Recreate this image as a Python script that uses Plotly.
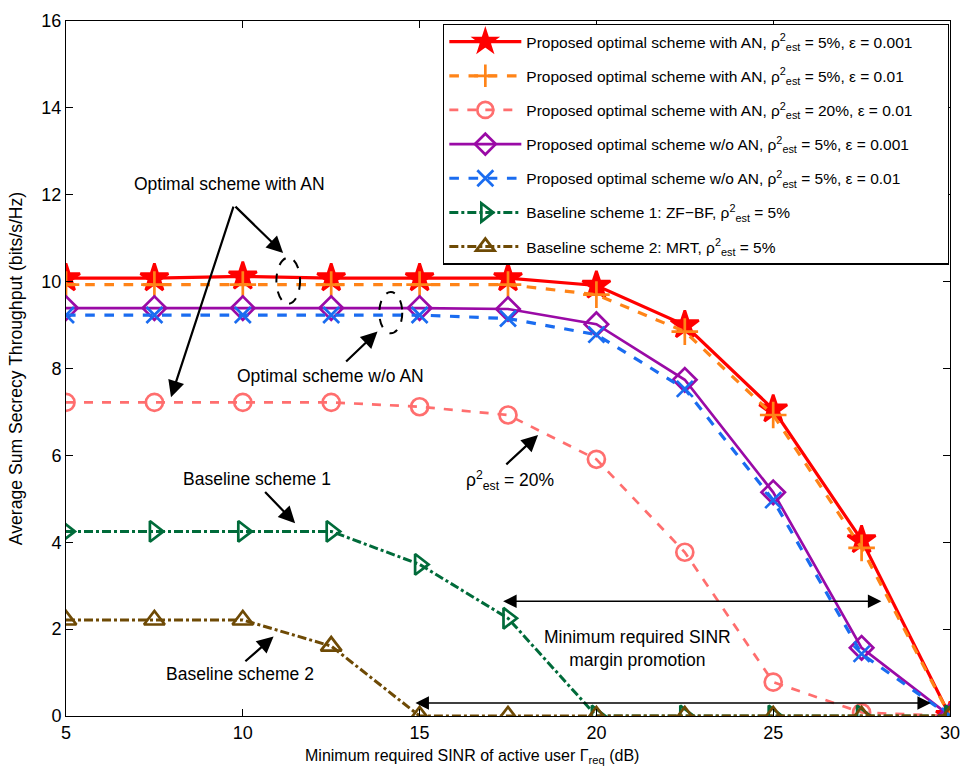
import plotly.graph_objects as go

x_sinr = [5, 7.5, 10, 12.5, 15, 17.5, 20, 22.5, 25, 27.5, 30]
an_5_001 = [10.08, 10.08, 10.12, 10.08, 10.08, 10.08, 9.91, 9.0, 7.06, 4.05, 0]
an_5_01 = [9.93, 9.93, 9.93, 9.93, 9.93, 9.93, 9.7, 8.85, 6.93, 3.87, 0]
an_20_01 = [7.22, 7.22, 7.22, 7.22, 7.12, 6.93, 5.91, 3.77, 0.78, 0.08, 0]
noan_5_001 = [9.39, 9.39, 9.39, 9.39, 9.39, 9.37, 9.02, 7.74, 5.15, 1.57, 0]
noan_5_01 = [9.23, 9.23, 9.23, 9.23, 9.23, 9.15, 8.78, 7.53, 4.97, 1.43, 0]
zf_bf = [4.25, 4.25, 4.25, 4.25, 3.49, 2.25, 0, 0, 0, 0, 0]
mrt = [2.21, 2.21, 2.21, 1.61, 0, 0, 0, 0, 0, 0, 0]

x_ticks = [5, 10, 15, 20, 25, 30]
y_ticks = [0, 2, 4, 6, 8, 10, 12, 14, 16]

RHO = "ρ<sup>2</sup><sub>est</sub>"
PAD = "&nbsp;" * 7
names = [
    f"Proposed optimal scheme with AN, {RHO} = 5%, ε = 0.001{PAD}",
    f"Proposed optimal scheme with AN, {RHO} = 5%, ε = 0.01",
    f"Proposed optimal scheme with AN, {RHO} = 20%, ε = 0.01",
    f"Proposed optimal scheme w/o AN, {RHO} = 5%, ε = 0.001",
    f"Proposed optimal scheme w/o AN, {RHO} = 5%, ε = 0.01",
    f"Baseline scheme 1: ZF−BF, {RHO} = 5%",
    f"Baseline scheme 2: MRT, {RHO} = 5%",
]
series = [an_5_001, an_5_01, an_20_01, noan_5_001, noan_5_01, zf_bf, mrt]
colors = ["#FF0000", "#FF8418", "#FF6E6E", "#9A0AA6", "#1A6CF0", "#006B3A", "#6E4A05"]
dashes = ["solid", "dash", "dash", "solid", "dash", "dashdot", "dashdot"]
symbols = ["star", "cross-thin-open", "circle-open", "diamond-open",
           "x-thin-open", "triangle-right-open", "triangle-up-open"]
sizes = [21, 19, 17, 18, 16, 18, 18]
widths = [3.2, 3.2, 2.7, 2.7, 3.2, 3, 3]

FONT = "Liberation Sans, Arial, Helvetica"

fig = go.Figure()
for i, (nm, ys, c, d, s, sz, w) in enumerate(zip(names, series, colors, dashes, symbols, sizes, widths)):
    fig.add_trace(go.Scatter(
        x=x_sinr, y=ys, name=nm, mode="lines+markers", legendgroup=f"g{i}",
        line=dict(color=c, width=w, dash=d),
        marker=dict(symbol=s, size=sz, color=c, line=dict(color=c, width=2.7)),
    ))

# dashed ellipses
ellipses = [(10.95, 9.49, 11.62, 10.55), (13.86, 8.81, 14.51, 9.76)]
for x0, y0, x1, y1 in ellipses:
    fig.add_shape(type="circle", xref="x", yref="y", x0=x0, y0=y0, x1=x1, y1=y1,
                  line=dict(color="black", width=2, dash="dash"))

arrows = [
    # (head_x, head_y, tail_x, tail_y)
    (11.14, 10.66, 9.75, 11.76),
    (7.97, 7.34, 9.75, 11.76),
    (13.81, 8.85, 12.88, 8.13),
    (18.35, 6.47, 17.41, 5.76),
    (11.48, 4.44, 10.59, 5.19),
    (10.87, 1.83, 10.03, 1.23),
]
for hx, hy, tx, ty in arrows:
    fig.add_annotation(x=hx, y=hy, ax=tx, ay=ty, xref="x", yref="y", axref="x", ayref="y",
                       text="", showarrow=True, arrowhead=2, arrowsize=1.5, arrowwidth=2.2,
                       arrowcolor="black", standoff=0, startstandoff=0)

# double arrows
double_arrows = [(17.32, 28.06, 2.64), (14.84, 29.46, 0.30)]
for xa, xb, yv in double_arrows:
    fig.add_annotation(x=xb, y=yv, ax=xa, ay=yv, xref="x", yref="y", axref="x", ayref="y",
                       text="", showarrow=True, arrowhead=2, arrowside="end+start",
                       arrowsize=1.8, arrowwidth=1.5, arrowcolor="black",
                       standoff=0, startstandoff=0)

texts = [
    (9.61, 12.25, "Optimal scheme with AN"),
    (12.49, 7.83, "Optimal scheme w/o AN"),
    (17.55, 5.42, "ρ<sup>2</sup><sub>est</sub> = 20%"),
    (10.39, 5.46, "Baseline scheme 1"),
    (9.93, 0.97, "Baseline scheme 2"),
    (21.16, 1.56, "Minimum required SINR<br>margin promotion"),
]
for tx, ty, t in texts:
    fig.add_annotation(x=tx, y=ty, xref="x", yref="y", text=t, showarrow=False,
                       font=dict(size=17.5, color="black", family=FONT))

# x-axis title (slightly left of centre as in the reference)
fig.add_annotation(x=0.459, y=-0.058, xref="paper", yref="paper", xanchor="center",
                   yanchor="middle", showarrow=False,
                   text="Minimum required SINR of active user Γ<sub>req</sub> (dB)",
                   font=dict(size=16, color="black", family=FONT))

axis_common = dict(showline=True, linecolor="black", linewidth=1, mirror="allticks",
                   ticks="inside", ticklen=7, tickcolor="black", showgrid=False,
                   zeroline=False, tickfont=dict(size=18, color="black"),
                   ticklabeloverflow="allow")

fig.update_layout(
    width=971, height=778,
    margin=dict(l=66, r=14, t=11, b=62),
    paper_bgcolor="white", plot_bgcolor="white",
    font=dict(family=FONT, color="black"),
    xaxis=dict(range=[5, 30], tickvals=x_ticks, **axis_common),
    yaxis=dict(range=[0, 16], tickvals=y_ticks,
               title=dict(text="Average Sum Secrecy Throughput (bits/s/Hz)",
                          font=dict(size=17.6), standoff=14), **axis_common),
    legend=dict(x=0.4265, y=0.996, xanchor="left", yanchor="top",
                bgcolor="white", bordercolor="black", borderwidth=1.3,
                font=dict(size=15.5, color="black", family=FONT), itemwidth=72,
                tracegroupgap=11),
)

fig.write_html("out.html", config={"displayModeBar": False},
               post_script="document.body.style.margin='0';")
